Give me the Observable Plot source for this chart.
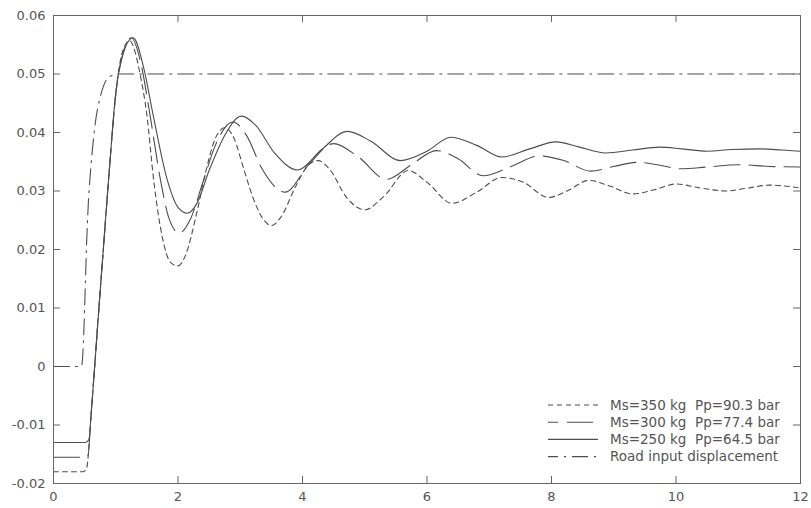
<!DOCTYPE html>
<html>
<head>
<meta charset="utf-8">
<script src="https://cdn.jsdelivr.net/npm/d3@7"></script>
<script src="https://cdn.jsdelivr.net/npm/@observablehq/plot@0.6"></script>
<style>
  body { margin: 0; background: #fff; }
  #chart { position: relative; width: 811px; height: 508px; }
  #chart text { white-space: pre; }
</style>
</head>
<body>
<div id="chart"></div>
<script>
// Axis ticks
const xTicks = [0, 2, 4, 6, 8, 10, 12];
const yTicks = [-0.02, -0.01, 0, 0.01, 0.02, 0.03, 0.04, 0.05, 0.06];
const yTickLabels = ["-0.02", "-0.01", "0", "0.01", "0.02", "0.03", "0.04", "0.05", "0.06"];

// Series names (legend order)
const seriesNames = [
  "Ms=350 kg  Pp=90.3 bar",
  "Ms=300 kg  Pp=77.4 bar",
  "Ms=250 kg  Pp=64.5 bar",
  "Road input displacement"
];

// Ms=350 kg, Pp=90.3 bar
const t350 = [0, 0.47, 0.53, 0.6, 0.7, 0.8, 0.9, 1.0, 1.1, 1.22, 1.4, 1.5, 1.61, 1.75, 1.88, 2.0, 2.12, 2.3, 2.45, 2.6, 2.75, 2.9, 3.05, 3.2, 3.35, 3.5, 3.65, 3.9, 4.1, 4.25, 4.45, 4.7, 5.0, 5.3, 5.7, 6.0, 6.4, 6.8, 7.2, 7.55, 7.95, 8.25, 8.6, 8.95, 9.3, 9.65, 10.0, 10.4, 10.8, 11.15, 11.5, 12];
const y350 = [-0.018, -0.018, -0.0175, -0.0088, 0.0057, 0.020, 0.034, 0.0465, 0.0535, 0.0557, 0.0495, 0.043, 0.0318, 0.022, 0.0178, 0.0172, 0.019, 0.0262, 0.0335, 0.039, 0.0408, 0.039, 0.034, 0.029, 0.0255, 0.0241, 0.0255, 0.031, 0.0345, 0.0352, 0.0335, 0.029, 0.0268, 0.029, 0.0335, 0.0315, 0.0279, 0.0298, 0.0323, 0.0315, 0.0289, 0.030, 0.0318, 0.0308, 0.0295, 0.0302, 0.0312, 0.0305, 0.030, 0.0305, 0.031, 0.0305];

// Ms=300 kg, Pp=77.4 bar
const t300 = [0, 0.5, 0.555, 0.6, 0.7, 0.8, 0.9, 1.0, 1.1, 1.25, 1.4, 1.55, 1.72, 1.85, 2.02, 2.2, 2.4, 2.6, 2.88, 3.1, 3.35, 3.72, 4.1, 4.5, 4.9, 5.35, 5.75, 6.15, 6.5, 6.9, 7.35, 7.8, 8.2, 8.63, 9.0, 9.38, 9.7, 10.07, 10.5, 11.0, 11.5, 12];
const y300 = [-0.0155, -0.0155, -0.0152, -0.0088, 0.0057, 0.020, 0.034, 0.0465, 0.0528, 0.0562, 0.052, 0.043, 0.0318, 0.0255, 0.0228, 0.0252, 0.0315, 0.0378, 0.0418, 0.0395, 0.0338, 0.0298, 0.0345, 0.0381, 0.0358, 0.032, 0.0345, 0.0369, 0.0355, 0.0326, 0.0342, 0.036, 0.0352, 0.0334, 0.0342, 0.0349, 0.0345, 0.0338, 0.0341, 0.0345, 0.0342, 0.0341];

// Ms=250 kg, Pp=64.5 bar
const t250 = [0, 0.51, 0.57, 0.6, 0.7, 0.8, 0.9, 1.0, 1.1, 1.28, 1.45, 1.6, 1.83, 2.0, 2.15, 2.3, 2.5, 2.75, 3.02, 3.25, 3.55, 3.92, 4.3, 4.72, 5.1, 5.57, 6.0, 6.38, 6.8, 7.2, 7.65, 8.07, 8.45, 8.87, 9.3, 9.74, 10.1, 10.5, 10.9, 11.35, 11.7, 12];
const y250 = [-0.013, -0.013, -0.0125, -0.0088, 0.0057, 0.020, 0.034, 0.0468, 0.0528, 0.0562, 0.051, 0.043, 0.0318, 0.0272, 0.0262, 0.0278, 0.0335, 0.0395, 0.0428, 0.0412, 0.0365, 0.0336, 0.037, 0.0402, 0.0385, 0.0352, 0.0368, 0.0392, 0.0378, 0.0358, 0.0372, 0.0384, 0.0375, 0.0365, 0.037, 0.0375, 0.0372, 0.0368, 0.0371, 0.0372, 0.037, 0.0368];

// Road input displacement
const tRoad = [0, 0.45, 0.48, 0.5, 0.53, 0.56, 0.6, 0.67, 0.75, 0.85, 0.95, 1.05, 12];
const yRoad = [0, 0, 0.004, 0.010, 0.0205, 0.028, 0.034, 0.0415, 0.046, 0.049, 0.0498, 0.05, 0.05];

const toRows = (ts, ys, name) => ts.map((t, i) => ({t, v: ys[i], name}));
const series = [
  toRows(t350, y350, seriesNames[0]),
  toRows(t300, y300, seriesNames[1]),
  toRows(t250, y250, seriesNames[2]),
  toRows(tRoad, yRoad, seriesNames[3])
];

// Line styles per series (same order as the legend)
const ink = "#4d4d4d";
const dashStyles = ["5,4", "26,9", null, "16,6,2,6"];

const W = 811, H = 508;
const margin = {top: 15, right: 11, bottom: 25, left: 53};
const frameW = W - margin.left - margin.right;
const frameH = H - margin.top - margin.bottom;
const tickLen = 7;

const lines = series.map((rows, i) => Plot.line(rows, {
  x: "t", y: "v",
  stroke: ink,
  strokeWidth: 1.1,
  curve: "monotone-x",
  strokeDasharray: dashStyles[i] ?? undefined
}));

const chart = Plot.plot({
  width: W,
  height: H,
  marginTop: margin.top,
  marginRight: margin.right,
  marginBottom: margin.bottom,
  marginLeft: margin.left,
  style: {fontFamily: "DejaVu Sans, sans-serif", fontSize: "13px", color: "#555", background: "#fff"},
  x: {domain: [0, 12]},
  y: {domain: [-0.02, 0.06]},
  marks: [
    // inward ticks on all four sides
    Plot.tickX(xTicks, {x: d => d, insetTop: frameH - tickLen, stroke: "#666"}),
    Plot.tickX(xTicks, {x: d => d, insetBottom: frameH - tickLen, stroke: "#666"}),
    Plot.tickY(yTicks, {y: d => d, insetRight: frameW - tickLen, stroke: "#666"}),
    Plot.tickY(yTicks, {y: d => d, insetLeft: frameW - tickLen, stroke: "#666"}),
    Plot.axisX(xTicks, {tickSize: 0, tickPadding: 8, label: null, tickFormat: d => String(d)}),
    Plot.axisY(yTicks, {tickSize: 0, tickPadding: 8, label: null, tickFormat: d => yTickLabels[yTicks.indexOf(d)]}),
    ...lines,
    Plot.frame({stroke: "#666"})
  ]
});

document.getElementById("chart").appendChild(chart);

// Legend in the lower-right corner of the axes box
const svg = d3.select(chart);
const legend = svg.append("g")
  .attr("font-family", "DejaVu Sans, sans-serif")
  .attr("font-size", 13.5)
  .attr("text-anchor", "start")
  .attr("fill", "#555");
const legendLeft = W - margin.right - 252;
const legendTop = 405;
const rowGap = 17.2;
const sampleOffsets = [0, 16, 0, 6];
seriesNames.forEach((name, i) => {
  const y = legendTop + i * rowGap;
  legend.append("line")
    .attr("x1", legendLeft).attr("x2", legendLeft + 50)
    .attr("y1", y).attr("y2", y)
    .attr("stroke", ink).attr("stroke-width", 1.1)
    .attr("stroke-dasharray", dashStyles[i])
    .attr("stroke-dashoffset", sampleOffsets[i]);
  legend.append("text")
    .attr("x", legendLeft + 62).attr("y", y)
    .attr("dy", "0.35em")
    .attr("text-anchor", "start")
    .text(name);
});
</script>
</body>
</html>
